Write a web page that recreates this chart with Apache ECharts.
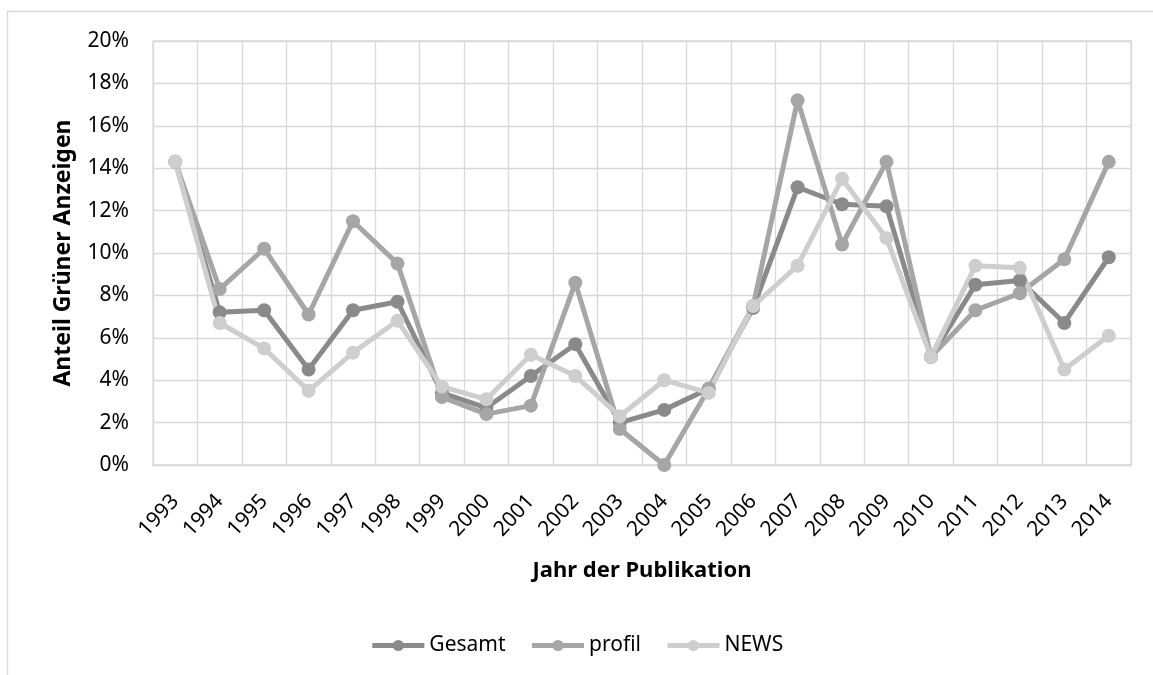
<!DOCTYPE html>
<html>
<head>
<meta charset="utf-8">
<script src="https://cdn.jsdelivr.net/npm/echarts@6/dist/echarts.min.js"></script>
<style>
  html, body { margin: 0; padding: 0; background: #fff; }
  #chart { width: 1153px; height: 675px; }
</style>
</head>
<body>
<div id="chart"></div>
<script>
// Share of "green" advertisements per publication year (percent)
const years = ['1993','1994','1995','1996','1997','1998','1999','2000','2001','2002','2003',
               '2004','2005','2006','2007','2008','2009','2010','2011','2012','2013','2014'];
const gesamt = [14.3, 7.2, 7.3, 4.5, 7.3, 7.7, 3.4, 2.7, 4.2, 5.7, 2.0,
                2.6, 3.6, 7.4, 13.1, 12.3, 12.2, 5.1, 8.5, 8.7, 6.7, 9.8];
const profil = [14.3, 8.3, 10.2, 7.1, 11.5, 9.5, 3.2, 2.4, 2.8, 8.6, 1.7,
                0.0, 3.6, 7.5, 17.2, 10.4, 14.3, 5.1, 7.3, 8.1, 9.7, 14.3];
const news   = [14.3, 6.7, 5.5, 3.5, 5.3, 6.8, 3.7, 3.1, 5.2, 4.2, 2.3,
                4.0, 3.4, 7.5, 9.4, 13.5, 10.7, 5.1, 9.4, 9.3, 4.5, 6.1];
const seriesNames = ['Gesamt', 'profil', 'NEWS'];
const colors = ['#8a8a8a', '#a6a6a6', '#cecece'];

const FONT = '"Noto Sans", "Open Sans", sans-serif';
const GRID = '#d9d9d9';

const chart = echarts.init(document.getElementById('chart'), null, { renderer: 'canvas' });

function lineSeries(name, data, color) {
  return {
    name: name,
    type: 'line',
    data: data,
    symbol: 'circle',
    symbolSize: 14,
    lineStyle: { color: color, width: 5 },
    itemStyle: { color: color },
    emphasis: { disabled: true },
    animation: false
  };
}

chart.setOption({
  animation: false,
  graphic: [{
    type: 'rect',
    shape: { x: 7.5, y: 11.5, width: 1300, height: 800 },
    style: { fill: 'none', stroke: GRID, lineWidth: 1.3 },
    silent: true,
    z: -10
  }],
  grid: {
    left: 153, right: 22, top: 41, bottom: 210,
    show: true, borderColor: GRID, borderWidth: 1.3
  },
  legend: {
    bottom: 14,
    left: 'center',
    itemWidth: 52,
    itemHeight: 14,
    itemGap: 24,
    data: seriesNames,
    lineStyle: { width: 5 },
    textStyle: { fontFamily: FONT, fontSize: 21, color: '#000', padding: [0, 0, 0, 0] }
  },
  xAxis: {
    type: 'category',
    data: years,
    boundaryGap: true,
    name: 'Jahr der Publikation',
    nameLocation: 'middle',
    nameGap: 95,
    nameTextStyle: { fontFamily: FONT, fontSize: 22, fontWeight: 'bold', color: '#000' },
    axisLine: { show: true, lineStyle: { color: GRID, width: 1.3 } },
    axisTick: { show: false },
    splitLine: { show: true, lineStyle: { color: GRID, width: 1.3 } },
    axisLabel: {
      rotate: 47,
      margin: 33,
      fontFamily: FONT, fontSize: 21, color: '#000',
      interval: 0
    }
  },
  yAxis: {
    type: 'value',
    min: 0, max: 20, interval: 2,
    name: 'Anteil Grüner Anzeigen',
    nameLocation: 'middle',
    nameRotate: 90,
    nameGap: 78,
    nameTextStyle: { fontFamily: FONT, fontSize: 23, fontWeight: 'bold', color: '#000' },
    axisLine: { show: false },
    axisTick: { show: false },
    splitLine: { show: true, lineStyle: { color: GRID, width: 1.3 } },
    axisLabel: {
      formatter: '{value}%',
      margin: 24,
      fontFamily: FONT, fontSize: 21, color: '#000'
    }
  },
  series: [
    lineSeries(seriesNames[0], gesamt, colors[0]),
    lineSeries(seriesNames[1], profil, colors[1]),
    lineSeries(seriesNames[2], news, colors[2])
  ]
});
</script>
</body>
</html>
